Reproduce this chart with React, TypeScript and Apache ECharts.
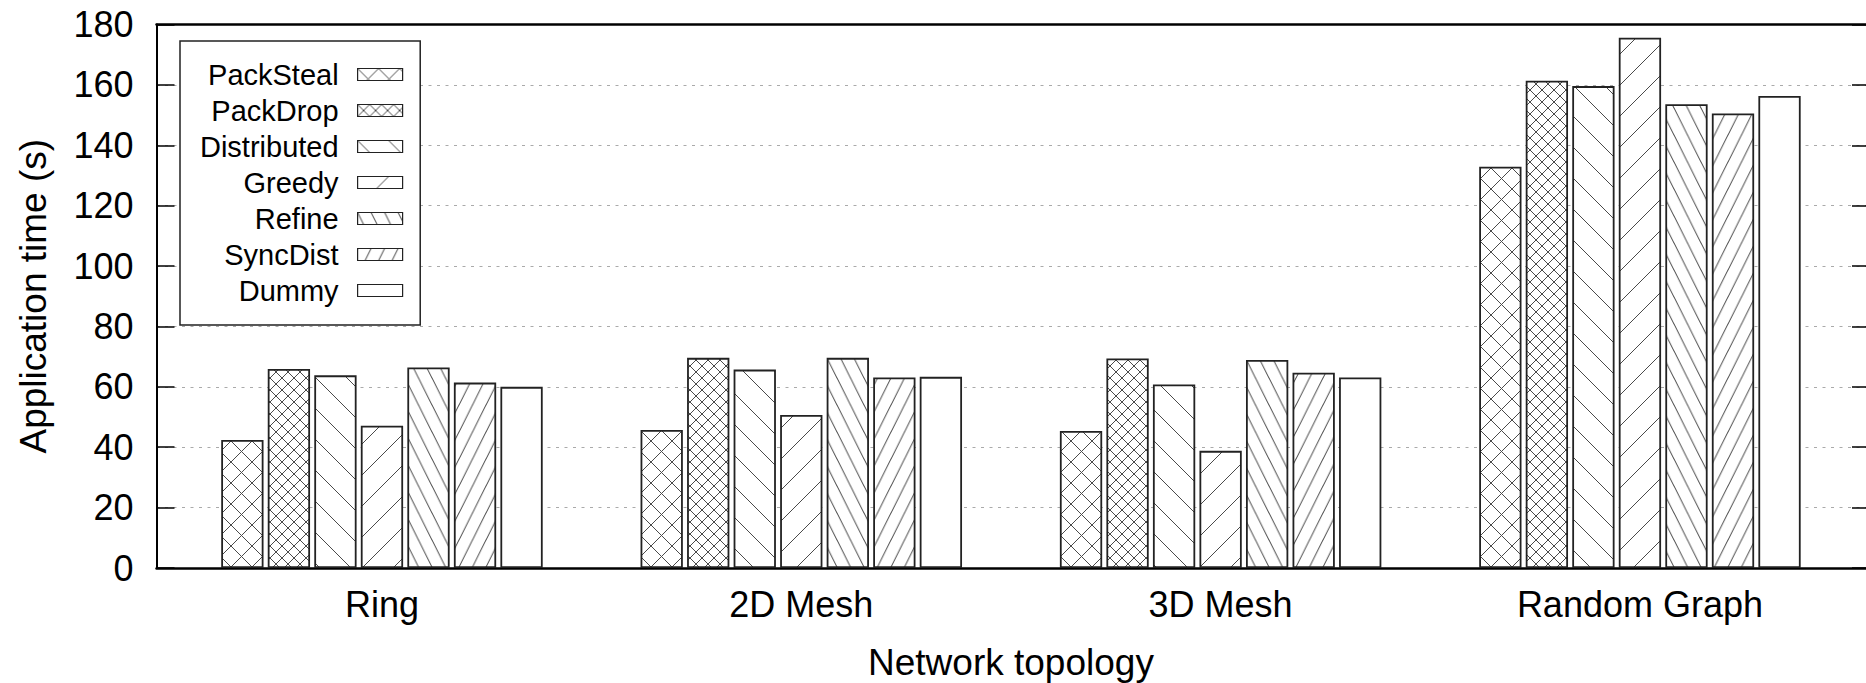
import React, { useEffect, useRef } from "react";
import * as echarts from "echarts";

const categories = ["Ring", "2D Mesh", "3D Mesh", "Random Graph"];
const seriesNames = ["PackSteal", "PackDrop", "Distributed", "Greedy", "Refine", "SyncDist", "Dummy"];
const packSteal = [42.4, 45.7, 45.4, 132.9];
const packDrop = [65.9, 69.6, 69.4, 161.4];
const distributed = [63.8, 65.7, 60.8, 159.6];
const greedy = [47.1, 50.7, 38.8, 175.6];
const refine = [66.4, 69.6, 68.9, 153.6];
const syncDist = [61.4, 63.1, 64.7, 150.5];
const dummy = [60.0, 63.3, 63.1, 156.3];
const yMin = 0;
const yMax = 180;
const yStep = 20;

const FONT = "'Liberation Sans', Arial, Helvetica, sans-serif";

type Seg = [number, number, number, number];

function hatch(w: number, h: number, segs: Seg[]) {
  let d = "";
  for (const [x1, y1, x2, y2] of segs) {
    for (const dx of [-w, 0, w]) {
      for (const dy of [-h, 0, h]) {
        d += `M${x1 + dx},${y1 + dy}L${x2 + dx},${y2 + dy}`;
      }
    }
  }
  const svg = `<svg xmlns="http://www.w3.org/2000/svg" width="${w}" height="${h}" viewBox="0 0 ${w} ${h}"><rect width="${w}" height="${h}" fill="#ffffff"/><path d="${d}" stroke="#4a4a4a" stroke-width="1" fill="none"/></svg>`;
  return {
    image: "data:image/svg+xml;charset=utf-8," + encodeURIComponent(svg),
    repeat: "repeat",
    imageWidth: w,
    imageHeight: h,
  };
}

const cross = (s: number) => hatch(s, s, [[0, s, s, 0], [0, 0, s, s]]);
const slash = (s: number) => hatch(s, s, [[0, s, s, 0]]);
const back = (s: number) => hatch(s, s, [[0, 0, s, s]]);
const steepSlash = (w: number) => hatch(w, 2 * w, [[0, 2 * w, w, 0]]);
const steepBack = (w: number) => hatch(w, 2 * w, [[0, 0, w, 2 * w]]);

export default function App() {
  const ref = useRef<HTMLDivElement>(null);
  useEffect(() => {
    if (!ref.current) return;
    const chart = echarts.init(ref.current, null, { renderer: "svg" });
    const values = [packSteal, packDrop, distributed, greedy, refine, syncDist, dummy];
    const fills: any[] = [cross(21), cross(12), back(31), slash(31), steepBack(13.5), steepSlash(13.5), "#ffffff"];

    const frameTop = 24.5;
    const frameBottom = 683 - 568;
    const option: any = {
      animation: false,
      backgroundColor: "#ffffff",
      textStyle: { fontFamily: FONT },
      grid: [
        { left: 172.3, width: 1677.3, top: frameTop, bottom: frameBottom, outerBoundsMode: "none", containLabel: false },
        { left: 156.5, width: 1713.5, top: frameTop, bottom: frameBottom, outerBoundsMode: "none", containLabel: false },
      ],
      legend: {
        orient: "vertical",
        align: "right",
        left: 180,
        top: 41,
        padding: [19, 17, 20, 20],
        itemWidth: 45,
        itemHeight: 12,
        itemGap: 7,
        backgroundColor: "#ffffff",
        borderColor: "#222",
        borderWidth: 1.5,
        borderRadius: 0,
        icon: "rect",
        textStyle: { fontSize: 29, fontFamily: FONT, color: "#000", padding: [0, 14, 0, 0] },
        itemStyle: { borderColor: "#222", borderWidth: 1.2 },
        data: seriesNames,
      },
      xAxis: [
        {
          type: "category",
          gridIndex: 0,
          data: categories,
          axisLine: { show: false },
          axisTick: { show: false },
          splitLine: { show: false },
          axisLabel: { fontSize: 36, fontFamily: FONT, color: "#000", margin: 18, interval: 0 },
          name: "Network topology",
          nameLocation: "middle",
          nameGap: 76,
          nameMoveOverlap: false,
          nameTextStyle: { fontSize: 37, fontFamily: FONT, color: "#000" },
        },
        {
          type: "value",
          gridIndex: 1,
          min: 0,
          max: 1,
          position: "bottom",
          axisLine: { show: true, onZero: false, lineStyle: { color: "#000", width: 2.5 } },
          axisTick: { show: false },
          axisLabel: { show: false },
          splitLine: { show: false },
        },
        {
          type: "value",
          gridIndex: 1,
          min: 0,
          max: 1,
          position: "top",
          axisLine: { show: true, onZero: false, lineStyle: { color: "#000", width: 2.5 } },
          axisTick: { show: false },
          axisLabel: { show: false },
          splitLine: { show: false },
        },
      ],
      yAxis: [
        { type: "value", gridIndex: 0, min: yMin, max: yMax, show: false },
        {
          type: "value",
          gridIndex: 1,
          min: yMin,
          max: yMax,
          interval: yStep,
          position: "left",
          axisLine: { show: true, onZero: false, lineStyle: { color: "#000", width: 2 } },
          axisTick: { show: true, inside: true, length: 18, lineStyle: { color: "#000", width: 1.5 } },
          axisLabel: { fontSize: 36, fontFamily: FONT, color: "#000", margin: 23 },
          splitLine: { show: true, lineStyle: { color: "#aaa", width: 1, type: [3, 5.5] } },
          name: "Application time (s)",
          nameLocation: "middle",
          nameGap: 105,
          nameMoveOverlap: false,
          nameTextStyle: { fontSize: 37, fontFamily: FONT, color: "#000" },
        },
        {
          type: "value",
          gridIndex: 1,
          min: yMin,
          max: yMax,
          interval: yStep,
          position: "right",
          axisLine: { show: true, onZero: false, lineStyle: { color: "#000", width: 2 } },
          axisTick: { show: true, inside: true, length: 18, lineStyle: { color: "#000", width: 1.5 } },
          axisLabel: { show: false },
          splitLine: { show: false },
        },
      ],
      series: seriesNames.map((name, i) => ({
        name,
        type: "bar",
        xAxisIndex: 0,
        yAxisIndex: 0,
        data: values[i],
        barWidth: 42.3,
        barGap: "10%",
        itemStyle: { color: fills[i], borderColor: "#222", borderWidth: 1.8 },
        emphasis: { disabled: true },
      })),
    };
    chart.setOption(option);
    return () => chart.dispose();
  }, []);
  return <div ref={ref} style={{ position: "fixed", left: 0, top: 0, width: 1866, height: 683 }} />;
}
